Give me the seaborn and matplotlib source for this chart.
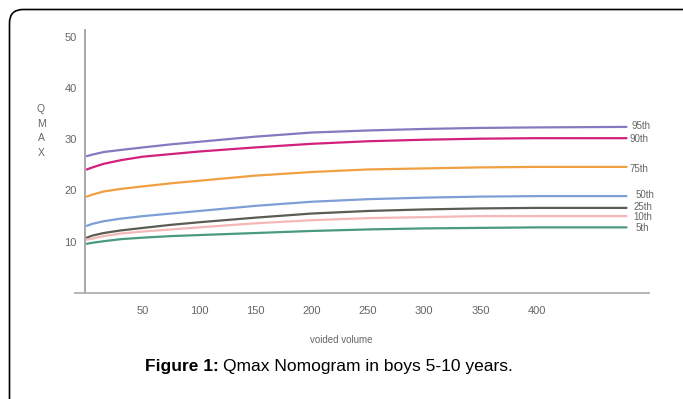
import matplotlib
matplotlib.use("Agg")
import matplotlib.pyplot as plt
from matplotlib.patches import FancyBboxPatch
import numpy as np
import pandas as pd
import seaborn as sns

# Voided volume (ml) sample points and Qmax percentile curves (ml/s)
volume = [0, 5, 15, 30, 50, 75, 100, 150, 200, 250, 300, 350, 400, 480]
p95 = [26.7, 27.0, 27.5, 27.9, 28.4, 29.0, 29.5, 30.5, 31.3, 31.7, 32.0, 32.2, 32.3, 32.4]
p90 = [24.1, 24.5, 25.2, 25.9, 26.6, 27.1, 27.6, 28.4, 29.1, 29.6, 29.9, 30.1, 30.2, 30.2]
p75 = [18.8, 19.2, 19.8, 20.3, 20.8, 21.4, 21.9, 22.9, 23.6, 24.1, 24.3, 24.5, 24.6, 24.6]
p50 = [13.1, 13.5, 14.0, 14.5, 15.0, 15.5, 16.0, 17.0, 17.8, 18.3, 18.6, 18.8, 18.9, 18.9]
p25 = [10.8, 11.2, 11.7, 12.2, 12.7, 13.3, 13.8, 14.7, 15.5, 16.0, 16.3, 16.5, 16.6, 16.6]
p10 = [10.4, 10.6, 11.1, 11.6, 12.0, 12.4, 12.8, 13.6, 14.2, 14.6, 14.8, 15.0, 15.0, 15.0]
p5 = [9.6, 9.8, 10.1, 10.5, 10.8, 11.1, 11.3, 11.7, 12.1, 12.4, 12.6, 12.7, 12.8, 12.8]

percentiles = ["95th", "90th", "75th", "50th", "25th", "10th", "5th"]
series = [p95, p90, p75, p50, p25, p10, p5]
colors = ["#8878c0", "#d2207c", "#f0a040", "#7f9ed8", "#5c5c54", "#f4b8b8", "#4a9a82"]

# Label placement at the right-hand end of each curve
label_x = [484, 483, 483, 488, 486, 486, 488]
label_y = [32.5, 30.1, 24.1, 19.2, 16.7, 14.9, 12.6]

xticks = [50, 100, 150, 200, 250, 300, 350, 400]
yticks = [10, 20, 30, 40, 50]

df = pd.DataFrame({
    "volume": np.tile(volume, len(series)),
    "qmax": np.concatenate(series),
    "pct": np.repeat(percentiles, len(volume)),
})

sns.set_theme(style="white")
plt.rcParams["font.family"] = ["Liberation Sans", "DejaVu Sans"]

fig = plt.figure(figsize=(6.83, 3.99), dpi=100)
W, H = 683, 399
ax = fig.add_axes([74.5 / W, (H - 293) / H, (649 - 74.5) / W, (293 - 30) / H])

sns.lineplot(data=df, x="volume", y="qmax", hue="pct", hue_order=percentiles,
             palette=colors, linewidth=1.6, legend=False, ax=ax)

ax.set_xlim(-11, 500)
ax.set_ylim(0, 51.3)
ax.spines["top"].set_visible(False)
ax.spines["right"].set_visible(False)
ax.spines["left"].set_position(("data", -1.5))
ax.spines["left"].set_color("#a0a0a0")
ax.spines["left"].set_linewidth(1.3)
ax.spines["bottom"].set_color("#b0b0b0")
ax.spines["bottom"].set_linewidth(1.3)

ax.set_xticks(xticks)
ax.set_yticks(yticks)
ax.set_xticklabels([str(t) for t in xticks])
ax.set_yticklabels([str(t) for t in yticks])
ax.tick_params(axis="both", length=0, labelsize=8, colors="#666666")
ax.tick_params(axis="x", pad=9)
ax.tick_params(axis="y", pad=6)
ax.set_xlabel("")
ax.set_ylabel("")

for name, lx, ly, c in zip(percentiles, label_x, label_y, colors):
    ax.text(lx, ly, name, fontsize=7, color="#666666", ha="left", va="center")

# Axis titles
fig.text(41 / W, 1 - 131 / H, "Q\nM\nA\nX", fontsize=7.5, color="#666666",
         ha="center", va="center", linespacing=1.6)
fig.text(341 / W, 1 - 340 / H, "voided volume", fontsize=7, color="#666666",
         ha="center", va="center")

# Caption: bold figure number followed by regular text
cap_bold = fig.text(145 / W, 1 - 367 / H, "Figure 1:", fontsize=12.5,
                    fontweight="bold", color="black", ha="left", va="center")
fig.canvas.draw()
bb = cap_bold.get_window_extent()
fig.text((bb.x1 + 4) / W, 1 - 367 / H, "Qmax Nomogram in boys 5-10 years.",
         fontsize=12.5, color="black", ha="left", va="center")

# Rounded frame around the figure (right and bottom edges fall outside)
frame = FancyBboxPatch((9.5 / W, -30 / H), (700 - 9.5) / W, (H - 9.5 + 30) / H,
                       boxstyle="round,pad=0,rounding_size=0.02",
                       transform=fig.transFigure, fill=False,
                       edgecolor="black", linewidth=1.2, mutation_aspect=W / H)
fig.patches.append(frame)

fig.savefig("out.png", dpi=100)
